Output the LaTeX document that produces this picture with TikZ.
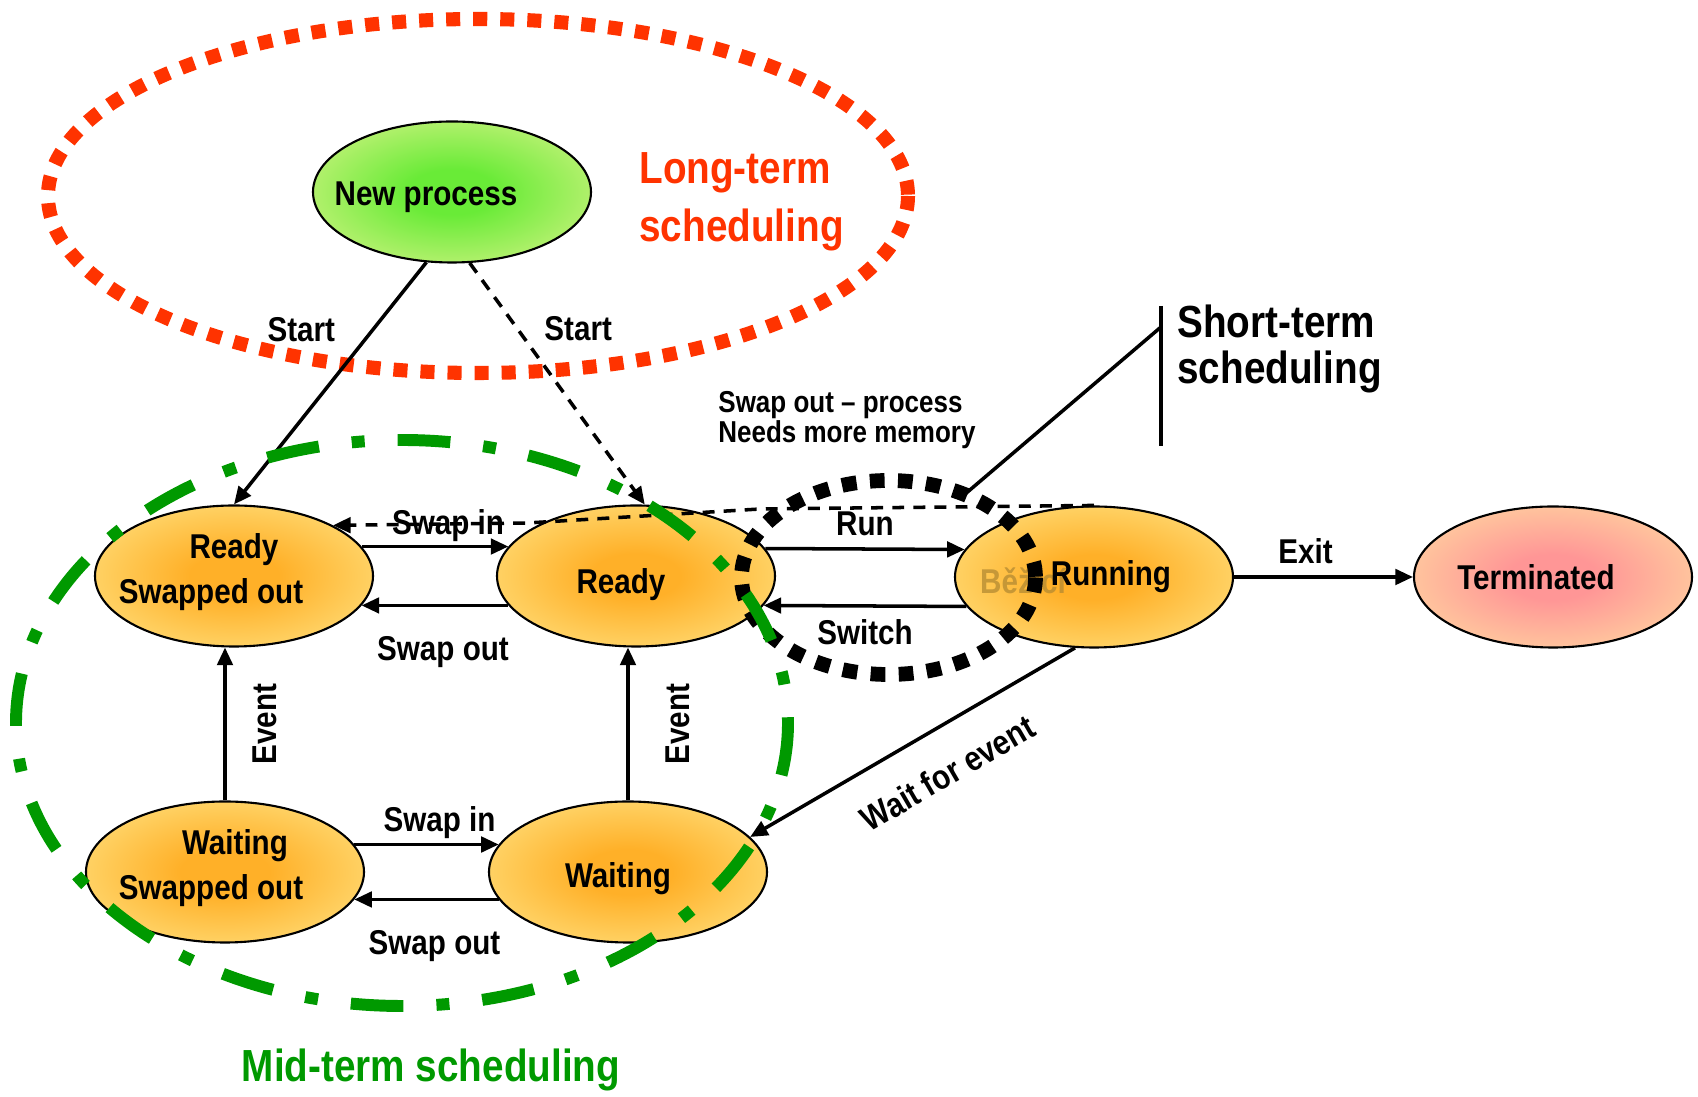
\documentclass[tikz,border=0pt]{standalone}
\usepackage{fontspec}
\setmainfont{Liberation Sans}[FakeStretch=0.86]
\usetikzlibrary{shapes.geometric,arrows.meta,positioning}

\definecolor{longred}{RGB}{255,51,0}
\definecolor{midgreen}{RGB}{0,153,0}
\definecolor{ghostbrown}{RGB}{180,138,50}
\definecolor{stateyellow}{RGB}{255,246,165}
\definecolor{stateorange}{RGB}{255,176,40}
\definecolor{stategreen}{RGB}{105,235,55}
\definecolor{statepink}{RGB}{255,150,150}

\pgfdeclareradialshading{orangeshade}{\pgfpoint{0bp}{0bp}}{color(0bp)=(stateorange); color(8bp)=(stateorange); color(44bp)=(stateyellow); color(50bp)=(stateyellow)}
\pgfdeclareradialshading{greenshade}{\pgfpoint{0bp}{0bp}}{color(0bp)=(stategreen); color(8bp)=(stategreen); color(44bp)=(stateyellow); color(50bp)=(stateyellow)}
\pgfdeclareradialshading{pinkshade}{\pgfpoint{0bp}{0bp}}{color(0bp)=(statepink); color(8bp)=(statepink); color(44bp)=(stateyellow); color(50bp)=(stateyellow)}

\newcommand{\stfont}{\bfseries\fontsize{9.8}{13}\selectfont}
\newcommand{\notefont}{\bfseries\fontsize{8.6}{8.4}\selectfont}
% one-line state text, moved right/left and down inside its ellipse
\newcommand{\sttext}[3]{\hspace*{#1}\raisebox{-#2}[0pt][0pt]{#3}}

\tikzset{
  state/.style={ellipse, draw, line width=0.6pt, minimum width=2.78cm, minimum height=1.41cm,
    inner sep=0pt, align=center, font=\stfont, shading=orangeshade},
  lbl/.style={font=\stfont},
  ghost/.style={font=\stfont, text=ghostbrown, text opacity=0.75},
  arr/.style={-{Triangle[length=5pt,width=4.4pt]}, line width=1pt},
  dashline/.style={dash pattern=on 3.4pt off 2.6pt},
  longterm/.style={draw=longred, line width=4pt, dash pattern=on 4pt off 3.7pt},
  midterm/.style={draw=midgreen, line width=3.4pt, dash pattern=on 15pt off 9.4pt on 3.7pt off 9.4pt},
  shortterm/.style={draw=black, line width=4.2pt, dash pattern=on 4.2pt off 3.8pt},
}

\begin{document}
\begin{tikzpicture}[x=0.1mm, y=-0.1mm]
\useasboundingbox (0,0) rectangle (1698,1097);

% long-term region
\draw[longterm] (478,196) ellipse (430 and 177);
\node[font=\bfseries\fontsize{12.8}{16.4}\selectfont, text=longred, anchor=west, align=left] (longlbl) at (627,202) {Long-term\\scheduling};

% states
\node[state, shading=greenshade] (newproc) at (452,192) {\sttext{-0.52cm}{0.14cm}{New process}};
\node[state, text depth=0.15cm] (readyso) at (234,576) {Ready\\\hspace*{-0.46cm}Swapped out};
\node[state] (ready) at (636,576) {\sttext{-0.3cm}{0.18cm}{Ready}};
\node[state] (running) at (1094,577) {};
\node[ghost] (ghostlbl) at (1023,581) {Běžící};
\node[lbl] (runlbl) at (1111,577) {Running};
\node[state, shading=pinkshade] (terminated) at (1553,577) {\sttext{-0.34cm}{0.124cm}{Terminated}};
\node[state, text depth=0.15cm] (waitingso) at (225,872) {\hspace*{0.2cm}Waiting\\\hspace*{-0.28cm}Swapped out};
\node[state] (waiting) at (628,872) {\sttext{-0.2cm}{0.154cm}{Waiting}};

% transitions
\draw[arr] (newproc.250) -- node[lbl, pos=0.28, left=0.24cm] {Start} (readyso.north);
\draw[arr, dashline] (newproc.284) -- node[lbl, pos=0.27, right=0.14cm] {Start} (ready.83);
\draw[arr, dashline] (running.north) -- (760,509) -- (527,523) -- (readyso.north east);
\draw[arr] (readyso.13) -- node[lbl, above, xshift=0.13cm, yshift=-0.09cm] {Swap in} (ready.167);
\draw[arr] (ready.193) -- node[lbl, below=0.18cm, xshift=0.08cm] {Swap out} (readyso.347);
\draw[arr] (ready.12) -- node[lbl, above] {Run} (running.168);
\draw[arr] (running.193) -- node[lbl, below] {Switch} (ready.347);
\draw[arr] (running.east) -- node[lbl, pos=0.4, above] {Exit} (terminated.west);
\draw[arr] (waitingso.north) -- node[lbl, midway, xshift=0.4cm, rotate=90] {Event} (waitingso.north |- readyso.south);
\draw[arr] (waiting.north) -- node[lbl, midway, xshift=0.5cm, rotate=90] {Event} (waiting.north |- ready.south);
\draw[arr] (waitingso.12) -- node[lbl, above, xshift=0.13cm, yshift=-0.08cm] {Swap in} (waiting.168);
\draw[arr] (waiting.192) -- node[lbl, below=0.18cm, xshift=0.08cm] {Swap out} (waitingso.348);
\draw[arr] (running.255) -- node[lbl, pos=0.46, sloped, below=0.18cm] {Wait for event} (waiting.16);

\node[font=\notefont, anchor=west, align=left] (swapnote) at (706,420) {Swap out – process\\Needs more memory};

% short-term region
\draw[shortterm] (888.5,577.5) ellipse (147 and 97);
\coordinate (bartop) at (1161,306);
\coordinate (barbot) at (1161,446);
\coordinate (barjoin) at (1161,327);
\coordinate (shorttip) at (964,495);
\draw[line width=1pt] (bartop) -- (barbot);
\draw[line width=1pt] (barjoin) -- (shorttip);
\node[font=\bfseries\fontsize{12.8}{13.2}\selectfont, anchor=west, align=left] (shortlbl) at (1165,349) {Short-term\\scheduling};

% mid-term region
\draw[midterm] (402,723) ellipse (386 and 283);
\node[font=\bfseries\fontsize{12.8}{15}\selectfont, text=midgreen] (midlbl) at (431,1070) {Mid-term scheduling};
\end{tikzpicture}
\end{document}
